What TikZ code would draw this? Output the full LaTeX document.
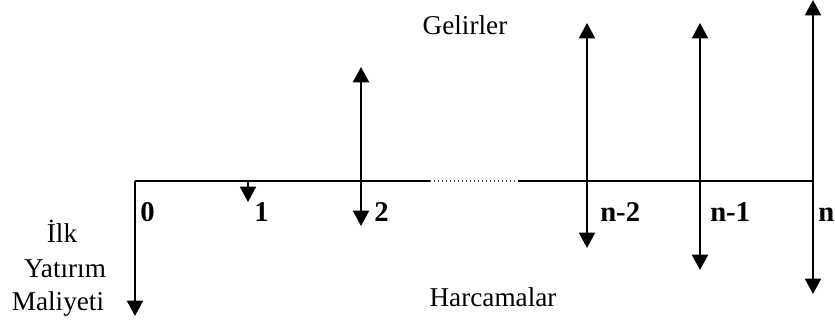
\documentclass[tikz,border=0pt]{standalone}
\usepackage{fontspec}
\setmainfont{Liberation Serif}
\usetikzlibrary{arrows.meta}
\begin{document}
\begin{tikzpicture}[x=0.75pt,y=-0.75pt,
  tip/.style={},
  flow/.style={line width=1.5pt,-{Triangle[width=12pt,length=11.5pt]}},
  both/.style={line width=1.5pt,{Triangle[width=12pt,length=11.5pt]}-{Triangle[width=12pt,length=11.5pt]}},
  axis/.style={line width=1.5pt},
  num/.style={font=\fontsize{21.5}{24}\selectfont\bfseries,anchor=base west,inner sep=0pt},
  lbl/.style={font=\fontsize{20.4}{24}\selectfont,anchor=base,inner sep=0pt}]
\useasboundingbox (0,0) rectangle (835,324);
% time axis
\coordinate (t0) at (135,181);
\coordinate (t1) at (248,181);
\coordinate (t2) at (361,181);
\coordinate (da) at (430,181);
\coordinate (db) at (518,181);
\coordinate (t3) at (587,181);
\coordinate (t4) at (700,181);
\coordinate (t5) at (813,181);
\draw[axis] (t0) -- (da);
\draw[line width=1pt,dotted,black!70] (da) -- (db);
\draw[axis] (db) -- (t5);
% cash flows
\coordinate (d0) at (135,316);
\coordinate (d1) at (248,202);
\coordinate (u2) at (361,67);
\coordinate (d2) at (361,226);
\coordinate (u3) at (587,23);
\coordinate (d3) at (587,248);
\coordinate (u4) at (700,23);
\coordinate (d4) at (700,270);
\coordinate (u5) at (813,0);
\coordinate (d5) at (813,294);
\draw[flow] (t0) -- (d0);
\draw[flow] (t1) -- (d1);
\draw[both] (u2) -- (d2);
\draw[both] (u3) -- (d3);
\draw[both] (u4) -- (d4);
\draw[both] (u5) -- (d5);
% period labels
\node[num] (l0) at (140,221) {0};
\node[num] (l1) at (254,221) {1};
\node[num] (l2) at (374,221) {2};
\node[num] (l3) at (600,221) {n-2};
\node[num] (l4) at (710,221) {n-1};
\node[num] (l5) at (818,221) {n};
% texts
\node[lbl] (gel) at (465,35) {Gelirler};
\node[lbl] (har) at (493,306) {Harcamalar};
\node[lbl] (ilk) at (62,243) {İlk};
\node[lbl] (yat) at (65,277) {Yatırım};
\node[lbl] (mal) at (58,310) {Maliyeti};
\end{tikzpicture}
\end{document}
